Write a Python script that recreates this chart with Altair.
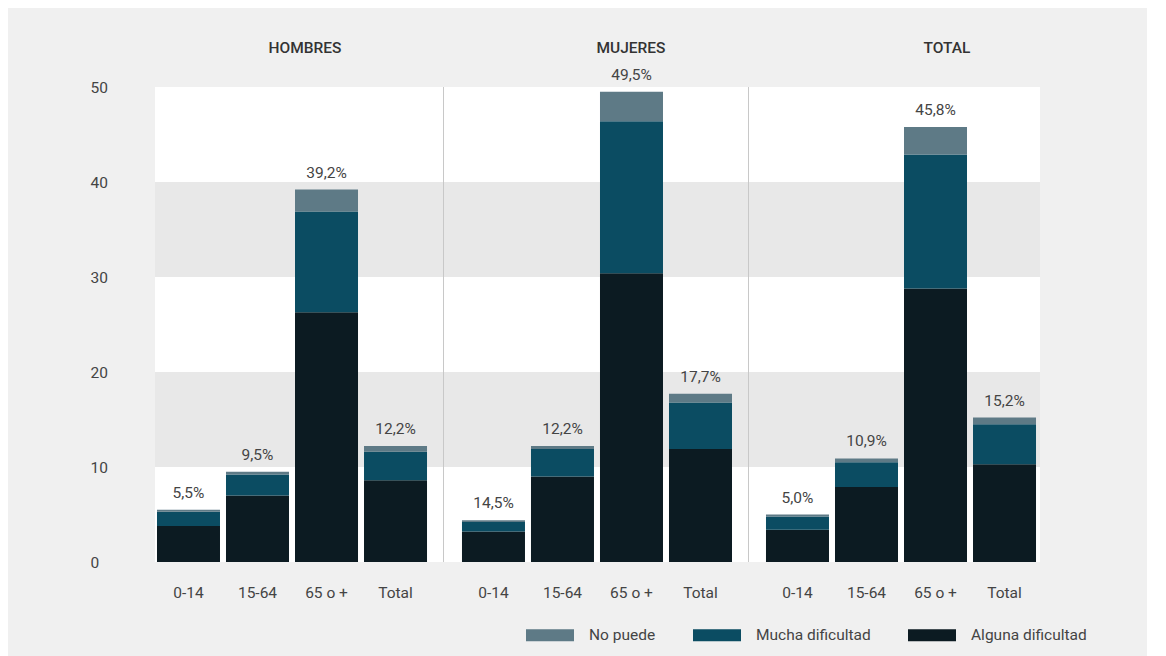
import altair as alt
import pandas as pd

# ---- data ----
ages = ["0-14", "15-64", "65 o +", "Total"]
groups = ["HOMBRES", "MUJERES", "TOTAL"]
categories = ["No puede", "Mucha dificultad", "Alguna dificultad"]
colors = ["#5e7a86", "#0b4c62", "#0c1b22"]

alguna_hombres = [3.8, 7.0, 26.3, 8.6]
mucha_hombres = [1.5, 2.2, 10.6, 3.0]
nopuede_hombres = [0.2, 0.3, 2.3, 0.6]
labels_hombres = ["5,5%", "9,5%", "39,2%", "12,2%"]

alguna_mujeres = [3.2, 9.0, 30.4, 11.9]
mucha_mujeres = [1.0, 2.9, 16.0, 4.9]
nopuede_mujeres = [0.2, 0.3, 3.1, 0.9]
labels_mujeres = ["14,5%", "12,2%", "49,5%", "17,7%"]

alguna_total = [3.4, 7.9, 28.8, 10.3]
mucha_total = [1.4, 2.6, 14.1, 4.2]
nopuede_total = [0.2, 0.4, 2.9, 0.7]
labels_total = ["5,0%", "10,9%", "45,8%", "15,2%"]

band_lo = [10, 30]
band_hi = [20, 40]
y_ticks = [0, 10, 20, 30, 40, 50]

series = {
    "HOMBRES": (alguna_hombres, mucha_hombres, nopuede_hombres, labels_hombres),
    "MUJERES": (alguna_mujeres, mucha_mujeres, nopuede_mujeres, labels_mujeres),
    "TOTAL": (alguna_total, mucha_total, nopuede_total, labels_total),
}

# ---- layout (per panel) ----
H = 475
widths = [289, 305, 291]
pad_outer = [0.1375, 0.2535, 0.152]
aligns = [0.105, 0.514, 0.81]
header_x = [150, 187, 198]

FONT = "Roboto"
TXT = "#444444"
FS = 15.5

color_scale = alt.Scale(domain=categories, range=colors)
yscale = alt.Scale(domain=[0, 50], nice=False, zero=True)


def panel(i):
    g = groups[i]
    alg, muc, nop, labs = series[g]
    rows = []
    for k, a in enumerate(ages):
        for cat, vals, o in ((categories[2], alg, 0), (categories[1], muc, 1), (categories[0], nop, 2)):
            rows.append({"age": a, "cat": cat, "value": vals[k], "ord": o, "label": labs[k]})
    df = pd.DataFrame(rows)
    W = widths[i]

    if i == 0:
        yaxis = alt.Axis(values=y_ticks, title=None, ticks=False, domain=False, grid=False,
                         labelAlign="left", labelPadding=65, labelFontSize=FS,
                         labelColor=TXT, labelFont=FONT)
    else:
        yaxis = None

    xenc = alt.X("age:N", sort=ages,
                 scale=alt.Scale(paddingInner=0.087, paddingOuter=pad_outer[i], align=aligns[i]),
                 axis=alt.Axis(title=None, labelAngle=0, ticks=False, domain=False,
                               labelPadding=23, labelFontSize=FS, labelColor=TXT,
                               labelFont=FONT))

    bands = alt.Chart(pd.DataFrame({"lo": band_lo, "hi": band_hi})).mark_rect(
        color="#e8e8e8").encode(
        y=alt.Y("lo:Q", scale=yscale, axis=yaxis), y2="hi:Q",
        x=alt.value(0), x2=alt.value(W))

    bars = alt.Chart(df).mark_bar().encode(
        x=xenc,
        y=alt.Y("value:Q", stack="zero", scale=yscale, axis=yaxis),
        color=alt.Color("cat:N", scale=color_scale, sort=categories,
                        legend=alt.Legend(title=None)),
        order=alt.Order("ord:Q"),
    )

    texts = alt.Chart(df).transform_aggregate(
        total="sum(value)", groupby=["age", "label"]
    ).mark_text(dy=-17, fontSize=FS, color=TXT, font=FONT, baseline="middle").encode(
        x=alt.X("age:N", sort=ages),
        y=alt.Y("total:Q", scale=yscale, axis=yaxis),
        text="label:N",
    )

    head = alt.Chart(pd.DataFrame({"group": [g]})).mark_text(
        fontSize=FS, fontWeight=500, color="#333333", font=FONT, baseline="middle"
    ).encode(text="group:N", x=alt.value(header_x[i]), y=alt.value(-39))

    layers = [bands]
    if i < 2:
        sep = alt.Chart(pd.DataFrame({"group": [g]})).mark_rule(
            color="#c8c8c8", strokeWidth=2).encode(
            x=alt.value(W), y=alt.value(0), y2=alt.value(H))
        layers.append(sep)
    layers += [bars, texts, head]
    return alt.layer(*layers).properties(width=W, height=H)


chart = alt.hconcat(panel(0), panel(1), panel(2), spacing=0, bounds="flush").resolve_scale(
    color="shared"
).properties(
    padding={"left": 82, "top": 33, "right": 60, "bottom": 12}
).configure(
    background="#f0f0f0", font=FONT
).configure_view(
    stroke=None, fill="white"
).configure_legend(
    orient="none", legendX=383, legendY=536, direction="horizontal",
    symbolType="M-2,-0.5H2V0.5H-2Z", symbolSize=576, symbolStrokeWidth=0,
    symbolOpacity=1, labelFontSize=FS, labelColor=TXT, labelFont=FONT,
    columnPadding=37, labelOffset=27, padding=0
)

chart.save("out.html", embed_options={"renderer": "svg", "actions": False})
